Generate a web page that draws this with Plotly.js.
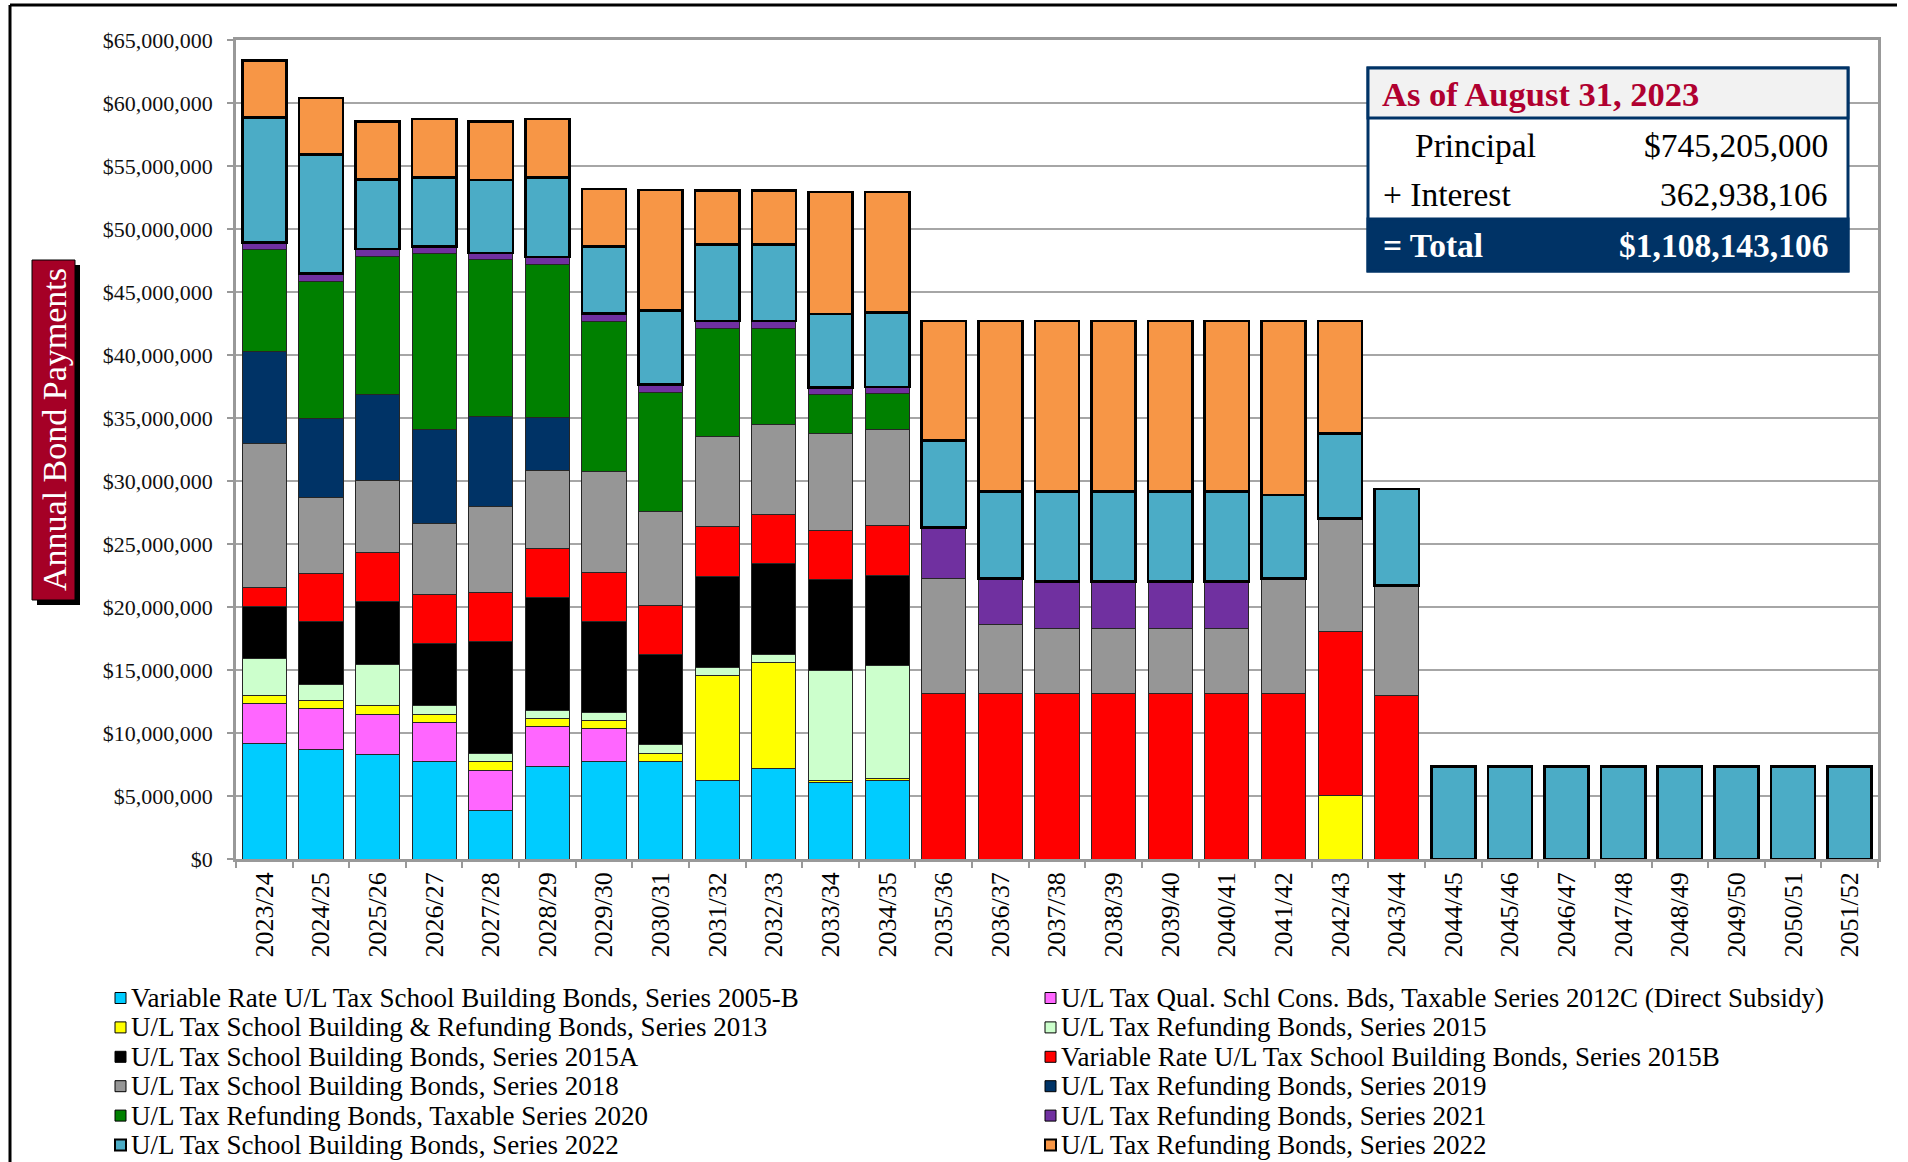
<!DOCTYPE html>
<html>
<head>
<meta charset="utf-8">
<script src="https://cdn.plot.ly/plotly-3.0.1.min.js"></script>
<style>
html, body { margin: 0; padding: 0; background: #ffffff; }
#chart { width: 1908px; height: 1162px; }
</style>
</head>
<body>
<div id="chart"></div>
<script>
// ---------- DATA ----------
const years = ["2023/24","2024/25","2025/26","2026/27","2027/28","2028/29","2029/30","2030/31","2031/32","2032/33",
  "2033/34","2034/35","2035/36","2036/37","2037/38","2038/39","2039/40","2040/41","2041/42","2042/43",
  "2043/44","2044/45","2045/46","2046/47","2047/48","2048/49","2049/50","2050/51","2051/52"];

const seriesNames = [
  "Variable Rate U/L Tax School Building Bonds, Series 2005-B",
  "U/L Tax Qual. Schl Cons. Bds, Taxable Series 2012C (Direct Subsidy)",
  "U/L Tax School Building & Refunding Bonds, Series 2013",
  "U/L Tax Refunding Bonds, Series 2015",
  "U/L Tax School Building Bonds, Series 2015A",
  "Variable Rate U/L Tax School Building Bonds, Series 2015B",
  "U/L Tax School Building Bonds, Series 2018",
  "U/L Tax Refunding Bonds, Series 2019",
  "U/L Tax Refunding Bonds, Taxable Series 2020",
  "U/L Tax Refunding Bonds, Series 2021",
  "U/L Tax School Building Bonds, Series 2022",
  "U/L Tax Refunding Bonds, Series 2022"
];

const seriesColors = ["#00CCFF","#FF66FF","#FFFF00","#CCFFCC","#000000","#FF0000",
  "#969696","#003366","#008000","#7030A0","#4BACC6","#F79646"];

const _ = null;
const s2005B = [9140000,8720000,8310000,7720000,3860000,7340000,7760000,7720000,6250000,7150000,6070000,6210000,
  _,_,_,_,_,_,_,_,_,_,_,_,_,_,_,_,_];
const s2012C = [3190000,3230000,3180000,3140000,3190000,3150000,2580000,_,_,_,_,_,
  _,_,_,_,_,_,_,_,_,_,_,_,_,_,_,_,_];
const s2013 = [670000,630000,670000,630000,670000,670000,620000,650000,8330000,8440000,140000,150000,
  _,_,_,_,_,_,_,5040000,_,_,_,_,_,_,_,_,_];
const s2015 = [2940000,1260000,3280000,670000,630000,630000,680000,680000,650000,680000,8770000,8980000,
  _,_,_,_,_,_,_,_,_,_,_,_,_,_,_,_,_];
const s2015A = [4110000,4990000,4990000,4950000,8930000,8970000,7220000,7220000,7220000,7190000,7180000,7150000,
  _,_,_,_,_,_,_,_,_,_,_,_,_,_,_,_,_];
const s2015B = [1510000,3860000,3900000,3910000,3910000,3900000,3880000,3880000,3920000,3880000,3950000,3980000,
  13100000,13100000,13100000,13100000,13100000,13100000,13100000,12990000,12960000,_,_,_,_,_,_,_,_];
const s2018 = [11410000,6000000,5700000,5620000,6800000,6170000,8040000,7400000,7180000,7180000,7650000,7620000,
  9160000,5510000,5220000,5220000,5220000,5220000,9160000,8990000,8730000,_,_,_,_,_,_,_,_];
const s2019 = [7300000,6250000,6800000,7460000,7120000,4190000,_,_,_,_,_,_,
  _,_,_,_,_,_,_,_,_,_,_,_,_,_,_,_,_];
const s2020 = [8090000,10910000,10990000,13930000,12460000,12170000,11890000,9480000,8580000,7580000,3090000,2840000,
  _,_,_,_,_,_,_,_,_,_,_,_,_,_,_,_,_];
const s2021 = [590000,630000,590000,590000,540000,590000,610000,650000,580000,610000,580000,530000,
  4040000,3650000,3710000,3710000,3710000,3710000,_,_,_,_,_,_,_,_,_,_,_];
const s2022School = [9900000,9430000,5530000,5490000,5790000,6330000,5320000,5860000,6070000,6070000,5820000,5900000,
  6910000,6920000,7150000,7150000,7150000,7150000,6630000,6760000,7690000,7350000,7350000,7350000,7350000,7350000,7350000,7350000,7350000];
const s2022Refunding = [4530000,4490000,4570000,4610000,4610000,4610000,4560000,9550000,4270000,4270000,9700000,9590000,
  9500000,13530000,13530000,13530000,13530000,13530000,13820000,8930000,_,_,_,_,_,_,_,_,_];

const seriesValues = [s2005B,s2012C,s2013,s2015,s2015A,s2015B,s2018,s2019,s2020,s2021,s2022School,s2022Refunding];

const yTickVals = [0,5000000,10000000,15000000,20000000,25000000,30000000,35000000,40000000,45000000,50000000,55000000,60000000,65000000];

const boxTitle = "As of August 31, 2023";
const boxRows = [["Principal","$745,205,000"],["+ Interest","362,938,106"],["= Total","$1,108,143,106"]];
const yTitle = "Annual Bond Payments";

// ---------- LAYOUT HELPERS (pixel -> paper) ----------
const FW = 1908, FH = 1162, ML = 236, MR = 30, MT = 40, MB = 303;
const PW = FW - ML - MR, PH = FH - MT - MB;
const px = x => (x - ML) / PW;
const py = y => (FH - MB - y) / PH;
const FONT = "Liberation Serif, Times New Roman, serif";

// ---------- TRACES ----------
const thick = [false,false,false,false,false,false,false,false,false,false,true,true];
const traces = seriesValues.map((vals, i) => ({
  type: "bar",
  name: seriesNames[i],
  x: years,
  y: vals,
  marker: {
    color: seriesColors[i],
    line: { color: thick[i] ? "#000000" : "#262626", width: thick[i] ? 2.6 : 1 }
  },
  showlegend: false,
  hovertemplate: "%{x}<br>%{y:$,.0f}<extra>" + seriesNames[i] + "</extra>"
}));

// ---------- SHAPES & ANNOTATIONS ----------
const shapes = [];
const annotations = [];

// outer frame (top and left edges)
shapes.push({type:"line", xref:"paper", yref:"paper", x0:px(10), x1:px(1897), y0:py(5), y1:py(5), line:{color:"#000", width:3}});
shapes.push({type:"line", xref:"paper", yref:"paper", x0:px(10), x1:px(10), y0:py(5), y1:py(1175), line:{color:"#000", width:3}});

// y-axis title box with shadow
shapes.push({type:"rect", xref:"paper", yref:"paper", x0:px(37), x1:px(80), y0:py(265), y1:py(605), fillcolor:"#000", line:{width:0}});
shapes.push({type:"rect", xref:"paper", yref:"paper", x0:px(32), x1:px(75), y0:py(260), y1:py(600), fillcolor:"#A50026", line:{color:"#000", width:1}});
annotations.push({xref:"paper", yref:"paper", x:px(54), y:py(430), text:yTitle, showarrow:false, textangle:-90,
  font:{family:FONT, size:34, color:"#ffffff"}, xanchor:"center", yanchor:"middle"});

// info box
shapes.push({type:"rect", xref:"paper", yref:"paper", x0:px(1368), x1:px(1848), y0:py(68), y1:py(271), fillcolor:"#ffffff", line:{color:"#003366", width:3}});
shapes.push({type:"rect", xref:"paper", yref:"paper", x0:px(1368), x1:px(1848), y0:py(68), y1:py(118), fillcolor:"#F2F2F2", line:{color:"#003366", width:3}});
shapes.push({type:"rect", xref:"paper", yref:"paper", x0:px(1368), x1:px(1848), y0:py(219), y1:py(271), fillcolor:"#003366", line:{color:"#003366", width:3}});
annotations.push({xref:"paper", yref:"paper", x:px(1380), y:py(94), text:"<b>"+boxTitle+"</b>", showarrow:false,
  xanchor:"left", yanchor:"middle", font:{family:FONT, size:34.5, color:"#B00030"}});
const rowY = [145, 194, 245];
const rowLX = [1413, 1381, 1381];
boxRows.forEach((r, i) => {
  const isTotal = i === 2;
  const col = isTotal ? "#ffffff" : "#000000";
  const l = isTotal ? "<b>"+r[0]+"</b>" : r[0];
  const v = isTotal ? "<b>"+r[1]+"</b>" : r[1];
  annotations.push({xref:"paper", yref:"paper", x:px(rowLX[i]), y:py(rowY[i]), text:l, showarrow:false,
    xanchor:"left", yanchor:"middle", font:{family:FONT, size:33.5, color:col}});
  annotations.push({xref:"paper", yref:"paper", x:px(1830), y:py(rowY[i]), text:v, showarrow:false,
    xanchor:"right", yanchor:"middle", font:{family:FONT, size:33.5, color:col}});
});

// legend (two columns, row-wise order)
seriesNames.forEach((name, i) => {
  const col = i % 2, row = Math.floor(i / 2);
  const sx = col === 0 ? 115 : 1045;
  const cy = 998 + row * 29.4;
  shapes.push({type:"rect", xref:"paper", yref:"paper", x0:px(sx), x1:px(sx+11), y0:py(cy-5.5), y1:py(cy+5.5),
    fillcolor:seriesColors[i], line:{color:"#000", width: thick[i] ? 2 : 1}});
  annotations.push({xref:"paper", yref:"paper", x:px(sx+14), y:py(cy), text:name, showarrow:false,
    xanchor:"left", yanchor:"middle", font:{family:FONT, size:27, color:"#000"}});
});

const layout = {
  width: FW, height: FH,
  margin: {l: ML, r: MR, t: MT, b: MB, autoexpand: false},
  paper_bgcolor: "#ffffff", plot_bgcolor: "#ffffff",
  barmode: "stack",
  bargap: 0.22,
  showlegend: false,
  font: {family: FONT, color: "#000"},
  xaxis: {
    type: "category",
    automargin: false,
    tickangle: -90,
    tickfont: {family: FONT, size: 26, color: "#000"},
    ticks: "outside", ticklen: 6, tickwidth: 2, tickcolor: "#999999",
    tickson: "boundaries",
    ticklabelstandoff: 0,
    showline: true, linecolor: "#999999", linewidth: 2.5, mirror: true,
    showgrid: false, zeroline: false,
    range: [-0.5, 28.5]
  },
  yaxis: {
    automargin: false,
    range: [0, 65000000],
    tickvals: yTickVals,
    tickformat: "$,.0f",
    tickfont: {family: FONT, size: 22, color: "#111"},
    ticks: "outside", ticklen: 6, tickwidth: 2, tickcolor: "#999999",
    ticklabelstandoff: 10,
    showline: true, linecolor: "#999999", linewidth: 2.5, mirror: true,
    showgrid: true, gridcolor: "#A6A6A6", gridwidth: 1.5,
    zeroline: false
  },
  shapes: shapes,
  annotations: annotations
};

Plotly.newPlot("chart", traces, layout, {displayModeBar: false, responsive: false});
</script>
</body>
</html>
